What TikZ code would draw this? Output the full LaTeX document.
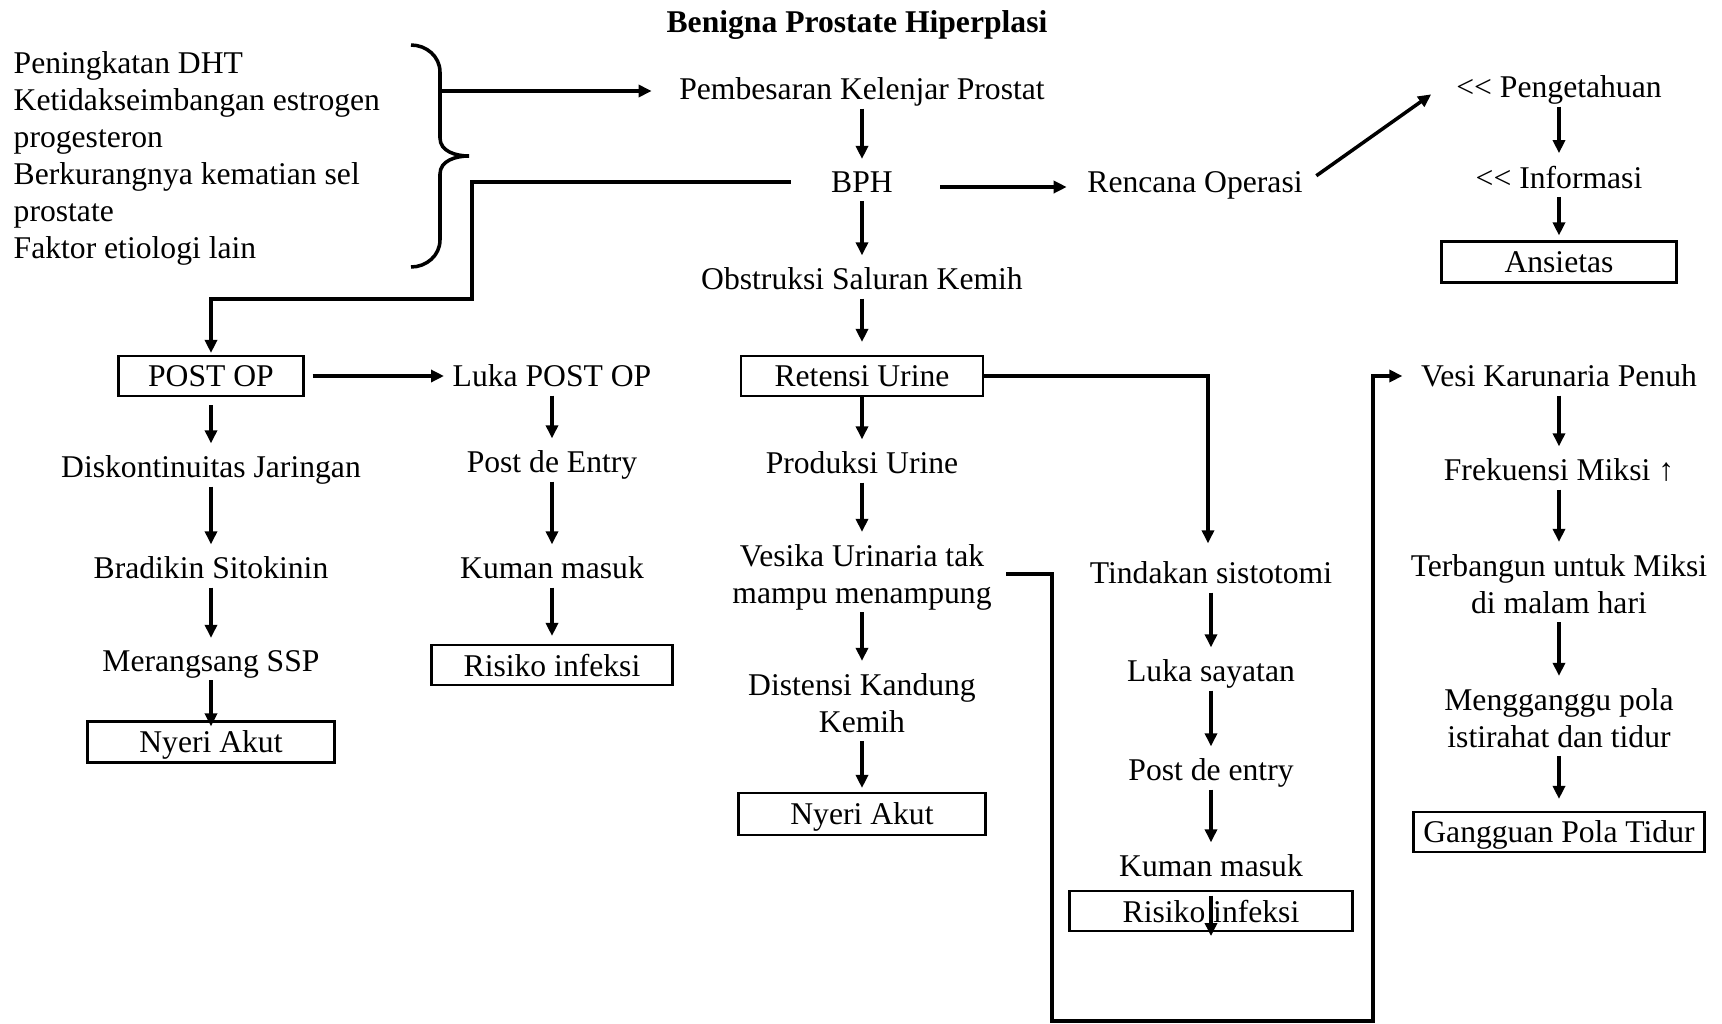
\documentclass[tikz,border=0pt]{standalone}
\usepackage{fontspec}
\setmainfont{Liberation Serif}
\usetikzlibrary{arrows.meta}
\pgfdeclarelayer{edgelayer}
\pgfdeclarelayer{nodelayer}
\pgfsetlayers{edgelayer,nodelayer,main}
\tikzset{font=\fontsize{9}{10.5}\selectfont}
\tikzstyle{none}=[inner sep=0pt]
\tikzstyle{txt}=[inner sep=0pt,align=center,text depth=0pt]
\tikzstyle{box}=[draw,line width=0.6pt,inner sep=0pt,text depth=0pt,minimum height=0.4cm]
\tikzstyle{link}=[line width=1pt]
\tikzstyle{arr}=[line width=1pt,-{Triangle[length=0.13cm,width=0.12cm]},shorten <=0.08cm,shorten >=0.12cm]

\begin{document}
\begin{tikzpicture}
	\useasboundingbox (0,0) rectangle (17.22,-10.24);
	\begin{pgfonlayer}{nodelayer}
		\node [style=txt,font=\fontsize{9}{10.5}\selectfont\bfseries] (0) at (8.57, -0.22) {Benigna Prostate Hiperplasi};
		\node [style=txt,align=left,anchor=west] (40) at (0.13, -1.55) {Peningkatan DHT\\Ketidakseimbangan estrogen\\progesteron\\Berkurangnya kematian sel\\prostate\\Faktor etiologi lain};
		\node [style=txt] (1) at (8.62, -0.89) {Pembesaran Kelenjar Prostat};
		\node [style=txt] (2) at (8.62, -1.82) {BPH};
		\node [style=txt] (3) at (8.62, -2.79) {Obstruksi Saluran Kemih};
		\node [style=box,minimum width=2.42cm] (4) at (8.62, -3.76) {Retensi Urine};
		\node [style=txt] (5) at (8.62, -4.63) {Produksi Urine};
		\node [style=txt] (6) at (8.62, -5.74) {Vesika Urinaria tak\\mampu menampung};
		\node [style=txt] (7) at (8.62, -7.03) {Distensi Kandung\\Kemih};
		\node [style=box,minimum width=2.47cm,minimum height=0.42cm] (8) at (8.62, -8.14) {Nyeri Akut};
		\node [style=txt] (9) at (11.95, -1.82) {Rencana Operasi};
		\node [style=txt] (10) at (15.59, -0.87) {<{}< Pengetahuan};
		\node [style=txt] (11) at (15.59, -1.77) {<{}< Informasi};
		\node [style=box,minimum width=2.35cm,minimum height=0.41cm] (12) at (15.59, -2.62) {Ansietas};
		\node [style=box,minimum width=1.85cm] (13) at (2.11, -3.76) {POST OP};
		\node [style=txt] (14) at (5.52, -3.76) {Luka POST OP};
		\node [style=txt] (15) at (5.52, -4.62) {Post de Entry};
		\node [style=txt] (16) at (5.52, -5.68) {Kuman masuk};
		\node [style=box,minimum width=2.41cm] (17) at (5.52, -6.65) {Risiko infeksi};
		\node [style=txt] (18) at (2.11, -4.67) {Diskontinuitas Jaringan};
		\node [style=txt] (19) at (2.11, -5.68) {Bradikin Sitokinin};
		\node [style=txt] (20) at (2.11, -6.61) {Merangsang SSP};
		\node [style=box,minimum width=2.47cm,minimum height=0.41cm] (21) at (2.11, -7.42) {Nyeri Akut};
		\node [style=txt] (22) at (12.11, -5.73) {Tindakan sistotomi};
		\node [style=txt] (23) at (12.11, -6.71) {Luka sayatan};
		\node [style=txt] (24) at (12.11, -7.70) {Post de entry};
		\node [style=txt] (25) at (12.11, -8.66) {Kuman masuk};
		\node [style=box,minimum width=2.83cm] (26) at (12.11, -9.11) {Risiko infeksi};
		\node [style=txt] (27) at (15.59, -3.76) {Vesi Karunaria Penuh};
		\node [style=txt] (28) at (15.59, -4.70) {Frekuensi Miksi ↑};
		\node [style=txt] (29) at (15.59, -5.84) {Terbangun untuk Miksi\\di malam hari};
		\node [style=txt] (30) at (15.59, -7.18) {Mengganggu pola\\istirahat dan tidur};
		\node [style=box,minimum width=2.91cm] (31) at (15.59, -8.32) {Gangguan Pola Tidur};
		% brace
		\node [style=none] (50) at (4.11, -0.45) {};
		\node [style=none] (51) at (4.40, -0.72) {};
		\node [style=none] (52) at (4.40, -1.38) {};
		\node [style=none] (53) at (4.69, -1.56) {};
		\node [style=none] (54) at (4.40, -1.74) {};
		\node [style=none] (55) at (4.40, -2.40) {};
		\node [style=none] (56) at (4.11, -2.67) {};
		\node [style=none] (57) at (4.40, -0.91) {};
		% bends
		\node [style=none] (60) at (4.72, -1.82) {};
		\node [style=none] (61) at (4.72, -2.99) {};
		\node [style=none] (62) at (2.11, -2.99) {};
		\node [style=none] (63) at (12.08, -3.76) {};
		\node [style=none] (64) at (10.52, -5.74) {};
		\node [style=none] (65) at (10.52, -10.21) {};
		\node [style=none] (66) at (13.73, -10.21) {};
		\node [style=none] (67) at (13.73, -3.76) {};
	\end{pgfonlayer}
	\begin{pgfonlayer}{edgelayer}
		\draw [style=link] (50.center) to [out=0,in=90] (51.center) to (52.center) to [out=-90,in=180] (53.center) to [out=180,in=90] (54.center) to (55.center) to [out=-90,in=0] (56.center);
		\draw [style=arr,shorten <=0pt,shorten >=0.27cm] (57.center) to (1.west |- 57.center);
		\draw [style=arr] (1) to (2);
		\draw [style=arr] (2) to (3);
		\draw [style=arr,shorten >=0.13cm] (3) to (4);
		\draw [style=arr,shorten <=0pt] (4) to (5);
		\draw [style=arr] (5) to (6);
		\draw [style=arr] (6) to (7);
		\draw [style=arr,shorten >=0.04cm] (7) to (8);
		\draw [style=arr,shorten <=0.47cm,shorten >=0.20cm] ([yshift=-0.05cm]2.east) to ([yshift=-0.05cm]9.west);
		\draw [style=arr,shorten <=0.16cm,shorten >=0.30cm] ([yshift=-0.03cm]9.east) to ([yshift=0.1cm]10.west);
		\draw [style=arr] (10) to (11);
		\draw [style=arr,shorten >=0.05cm] (11) to (12);
		\draw [style=arr,shorten <=0.40cm,shorten >=0.02cm] (2.west) to (60.center) to (61.center) to (62.center) to (13.north);
		\draw [style=arr,shorten <=0.08cm,shorten >=0.08cm] (13) to (14);
		\draw [style=arr] (13) to (18);
		\draw [style=arr] (18) to (19);
		\draw [style=arr] (19) to (20);
		\draw [style=arr,shorten >=-0.06cm] (20) to (21);
		\draw [style=arr] (14) to (15);
		\draw [style=arr] (15) to (16);
		\draw [style=arr,shorten >=0.08cm] (16) to (17);
		\draw [style=arr,shorten <=0pt,shorten >=0.18cm] (4.east) to (63.center) to (63.center |- 22.north);
		\draw [style=arr] (22) to (23);
		\draw [style=arr] (23) to (24);
		\draw [style=arr] (24) to (25);
		\draw [style=arr,shorten <=0.18cm,shorten >=-0.04cm] (25.south) to (26.south);
		\draw [style=arr,shorten <=0.14cm,shorten >=0.18cm] (6.east) to (64.center) to (65.center) to (66.center) to (67.center) to (27.west);
		\draw [style=arr] (27) to (28);
		\draw [style=arr] (28) to (29);
		\draw [style=arr] (29) to (30);
		\draw [style=arr] (30) to (31);
	\end{pgfonlayer}
\end{tikzpicture}
\end{document}
